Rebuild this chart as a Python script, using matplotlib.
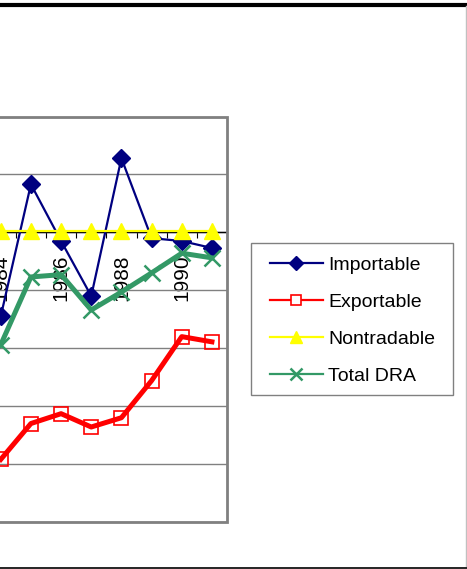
import matplotlib.pyplot as plt
from matplotlib.lines import Line2D
from matplotlib.patches import Rectangle

plt.rcParams['font.family'] = ['Liberation Sans', 'DejaVu Sans']

years = [1984, 1985, 1986, 1987, 1988, 1989, 1990, 1991]
importable = [-1.45, 0.83, -0.15, -1.10, 1.28, -0.10, -0.15, -0.27]
exportable = [-3.92, -3.30, -3.13, -3.36, -3.20, -2.56, -1.80, -1.89]
nontradable = [0.02, 0.02, 0.02, 0.02, 0.02, 0.02, 0.02, 0.02]
total_dra = [-1.94, -0.77, -0.73, -1.34, -1.03, -0.70, -0.36, -0.44]
label_years = [1984, 1986, 1988, 1990]
series_names = ['Importable', 'Exportable', 'Nontradable', 'Total DRA']

W, H = 467, 569
fig = plt.figure(figsize=(W / 100, H / 100), dpi=100)

# plot area runs off the left edge of the picture (cropped chart)
ax = fig.add_axes([-135 / W, 47 / H, 362 / W, 405.5 / H])
ax.set_xlim(1979.5, 1991.5)
ax.set_ylim(-5, 2)

for s in ax.spines.values():
    s.set_visible(False)
ax.spines['bottom'].set_visible(True)
ax.spines['bottom'].set_position(('data', 0))
ax.spines['bottom'].set_color('black')
ax.spines['bottom'].set_linewidth(1)
ax.spines['bottom'].set_zorder(1.5)

ax.set_yticks(range(-5, 3))
ax.yaxis.grid(True, color='#808080', lw=1)
ax.tick_params(axis='y', length=0, labelleft=False)
ax.set_axisbelow(True)

ax.set_xticks([y + 0.5 for y in range(1979, 1992)])
ax.tick_params(axis='x', which='major', direction='out', length=4,
               color='black', labelbottom=False)
ax.set_xticks(label_years, minor=True)
ax.set_xticklabels([str(y) for y in label_years], minor=True, rotation=90)
ax.tick_params(axis='x', which='minor', length=0, pad=16, labelsize=15,
               labelrotation=90, labelcolor='black')

ax.add_patch(Rectangle((0, 0), 1, 1, transform=ax.transAxes, fill=False,
                       edgecolor='#808080', lw=2, clip_on=False, zorder=5))

ax.plot(years, importable, color='#000080', lw=1.6, marker='D', ms=9,
        zorder=3)
ax.plot(years, exportable, color='#ff0000', lw=3.6, marker='s', ms=10,
        mfc='none', mec='#ff0000', mew=1.2, zorder=3)
ax.plot(years, nontradable, color='#ffff00', lw=1.6, marker='^', ms=11,
        zorder=3)
ax.plot(years, total_dra, color='#339966', lw=3.6, marker='x', ms=11,
        mew=1.8, zorder=3)

handles = [
    Line2D([], [], color='#000080', lw=1.6, marker='D', ms=7),
    Line2D([], [], color='#ff0000', lw=1.6, marker='s', ms=7, mfc='white',
           mew=1.2),
    Line2D([], [], color='#ffff00', lw=1.6, marker='^', ms=9),
    Line2D([], [], color='#339966', lw=1.6, marker='x', ms=8, mew=1.8),
]
fig.legend(handles, series_names, loc='upper left',
           bbox_to_anchor=(270 / W, 1 - 256 / H), frameon=False,
           fontsize=14, borderpad=0, borderaxespad=0, handlelength=2.7,
           handletextpad=0.3, labelspacing=1.0, numpoints=1)
fig.add_artist(Rectangle((251 / W, 1 - 395 / H), 202 / W, 152 / H,
                         transform=fig.transFigure, fill=False,
                         edgecolor='#808080', lw=1))

# page rules around the chart
fig.add_artist(Line2D([0, 1], [1 - 5 / H, 1 - 5 / H], color='black', lw=3))
fig.add_artist(Line2D([466 / W, 466 / W], [1 - 6 / H, 3 / H],
                      color='#c0c0c0', lw=1))
fig.add_artist(Line2D([0, 1], [1 / H, 1 / H], color='black', lw=1.2))

fig.savefig('out.png', dpi=100)
